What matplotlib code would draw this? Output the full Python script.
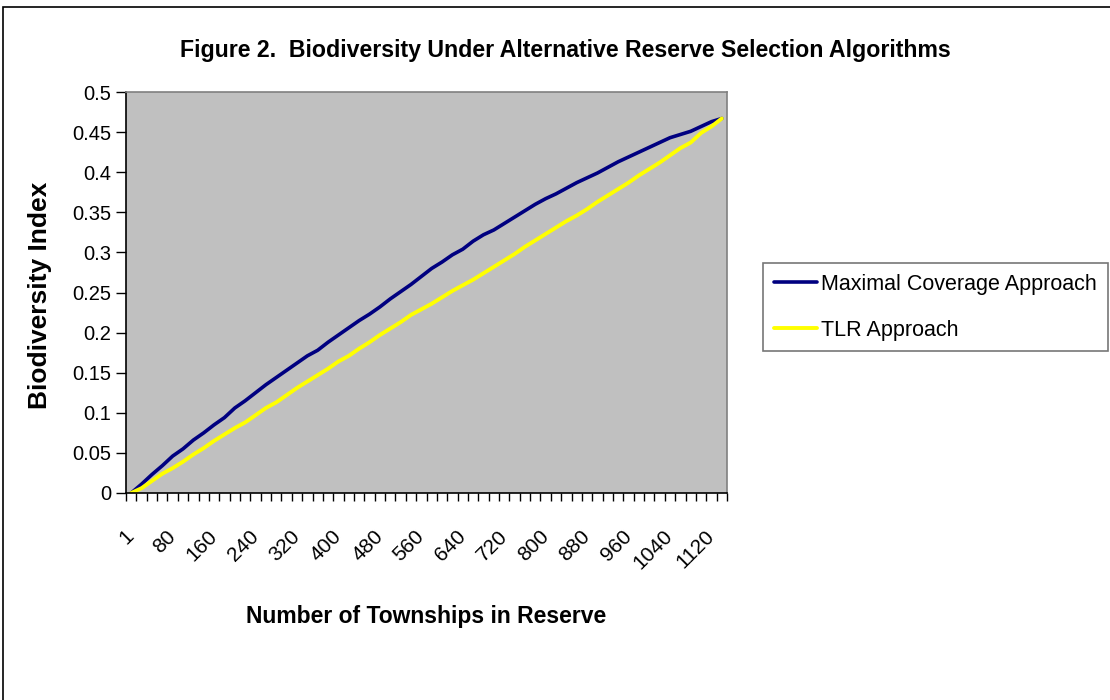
import numpy as np
import matplotlib.pyplot as plt
from matplotlib.patches import Rectangle

plt.rcParams['font.family'] = ['Liberation Sans', 'DejaVu Sans']

# categories: number of townships (1, 20, 40, ..., 1140)
townships = [1] + list(range(20, 1141, 20))
tick_labels = [str(t) for i, t in enumerate(townships) if i % 4 == 0]

maximal_coverage = [
    0.000, 0.011, 0.023, 0.034, 0.046, 0.055, 0.066, 0.075, 0.085, 0.094,
    0.106, 0.115, 0.125, 0.135, 0.144, 0.153, 0.162, 0.171, 0.178, 0.188,
    0.197, 0.206, 0.215, 0.223, 0.232, 0.242, 0.251, 0.260, 0.270, 0.280,
    0.288, 0.297, 0.304, 0.314, 0.322, 0.328, 0.336, 0.344, 0.352, 0.360,
    0.367, 0.373, 0.380, 0.387, 0.393, 0.399, 0.406, 0.413, 0.419, 0.425,
    0.431, 0.437, 0.443, 0.447, 0.451, 0.457, 0.463, 0.467,
]
tlr = [
    0.000, 0.006, 0.015, 0.024, 0.031, 0.039, 0.048, 0.056, 0.065, 0.073,
    0.081, 0.088, 0.097, 0.106, 0.113, 0.122, 0.131, 0.139, 0.147, 0.155,
    0.164, 0.171, 0.180, 0.188, 0.197, 0.205, 0.213, 0.222, 0.229, 0.236,
    0.244, 0.252, 0.259, 0.266, 0.274, 0.282, 0.290, 0.298, 0.307, 0.315,
    0.323, 0.331, 0.339, 0.346, 0.354, 0.363, 0.371, 0.379, 0.387, 0.396,
    0.404, 0.412, 0.421, 0.430, 0.437, 0.449, 0.457, 0.467,
]
y_ticks = [0, 0.05, 0.1, 0.15, 0.2, 0.25, 0.3, 0.35, 0.4, 0.45, 0.5]

fig = plt.figure(figsize=(11.1, 7), dpi=100)
ax = fig.add_axes([126/1110, 1 - 493/700, 601/1110, 401/700])
ax.set_facecolor('#c0c0c0')

x = np.arange(len(townships))
ax.plot(x, maximal_coverage, color='#000080', lw=2.6, label='Maximal Coverage Approach',
        solid_joinstyle='round', solid_capstyle='round')
ax.plot(x, tlr, color='#ffff00', lw=2.8, label='TLR Approach',
        solid_joinstyle='round', solid_capstyle='round')

ax.set_xlim(-0.5, len(townships) - 0.5)
ax.set_ylim(0, 0.5)

# y axis
ax.set_yticks(y_ticks)
ax.set_yticklabels([f'{v:g}' for v in y_ticks])
ax.tick_params(axis='y', direction='out', length=7, width=1, pad=3.5, labelsize=14.5, color='black')

# x axis: tick marks between categories, labels every 4th category
ax.set_xticks(np.arange(-0.5, len(townships)), minor=True)
ax.set_xticks(x[::4])
ax.set_xticklabels(tick_labels, rotation=45, ha='right', va='center', rotation_mode='anchor')
ax.tick_params(axis='x', which='minor', direction='out', length=5.5, width=1, color='black')
ax.tick_params(axis='x', which='major', length=0, pad=29, labelsize=15)

for s in ['top', 'right']:
    ax.spines[s].set_color('#808080')
    ax.spines[s].set_linewidth(1.2)
for s in ['left', 'bottom']:
    ax.spines[s].set_color('black')
    ax.spines[s].set_linewidth(1.2)

ax.set_xlabel('Number of Townships in Reserve', fontsize=16.5, fontweight='bold')
ax.xaxis.set_label_coords(0.5, -0.279)
ax.set_ylabel('Biodiversity Index', fontsize=19, fontweight='bold')
ax.yaxis.set_label_coords(-0.123, 0.494)

fig.text(565/1110, 1 - 50/700, 'Figure 2.  Biodiversity Under Alternative Reserve Selection Algorithms',
         fontsize=16.7, fontweight='bold', ha='center', va='center')

leg = fig.legend(loc='upper left', bbox_to_anchor=(763/1110, 1 - 263/700), fontsize=15.5,
                 frameon=True, fancybox=False, borderpad=0.5, handlelength=2.0,
                 handletextpad=0.2, labelspacing=1.15, borderaxespad=0)
leg.get_frame().set_edgecolor('#555555')
leg.get_frame().set_linewidth(1.2)

# outer chart border
fig.patches.append(Rectangle((3/1110, -0.05), 1.2, 1 - 7/700 + 0.05, transform=fig.transFigure,
                             fill=False, edgecolor='black', lw=1.2))

fig.savefig('out.png', dpi=100)
